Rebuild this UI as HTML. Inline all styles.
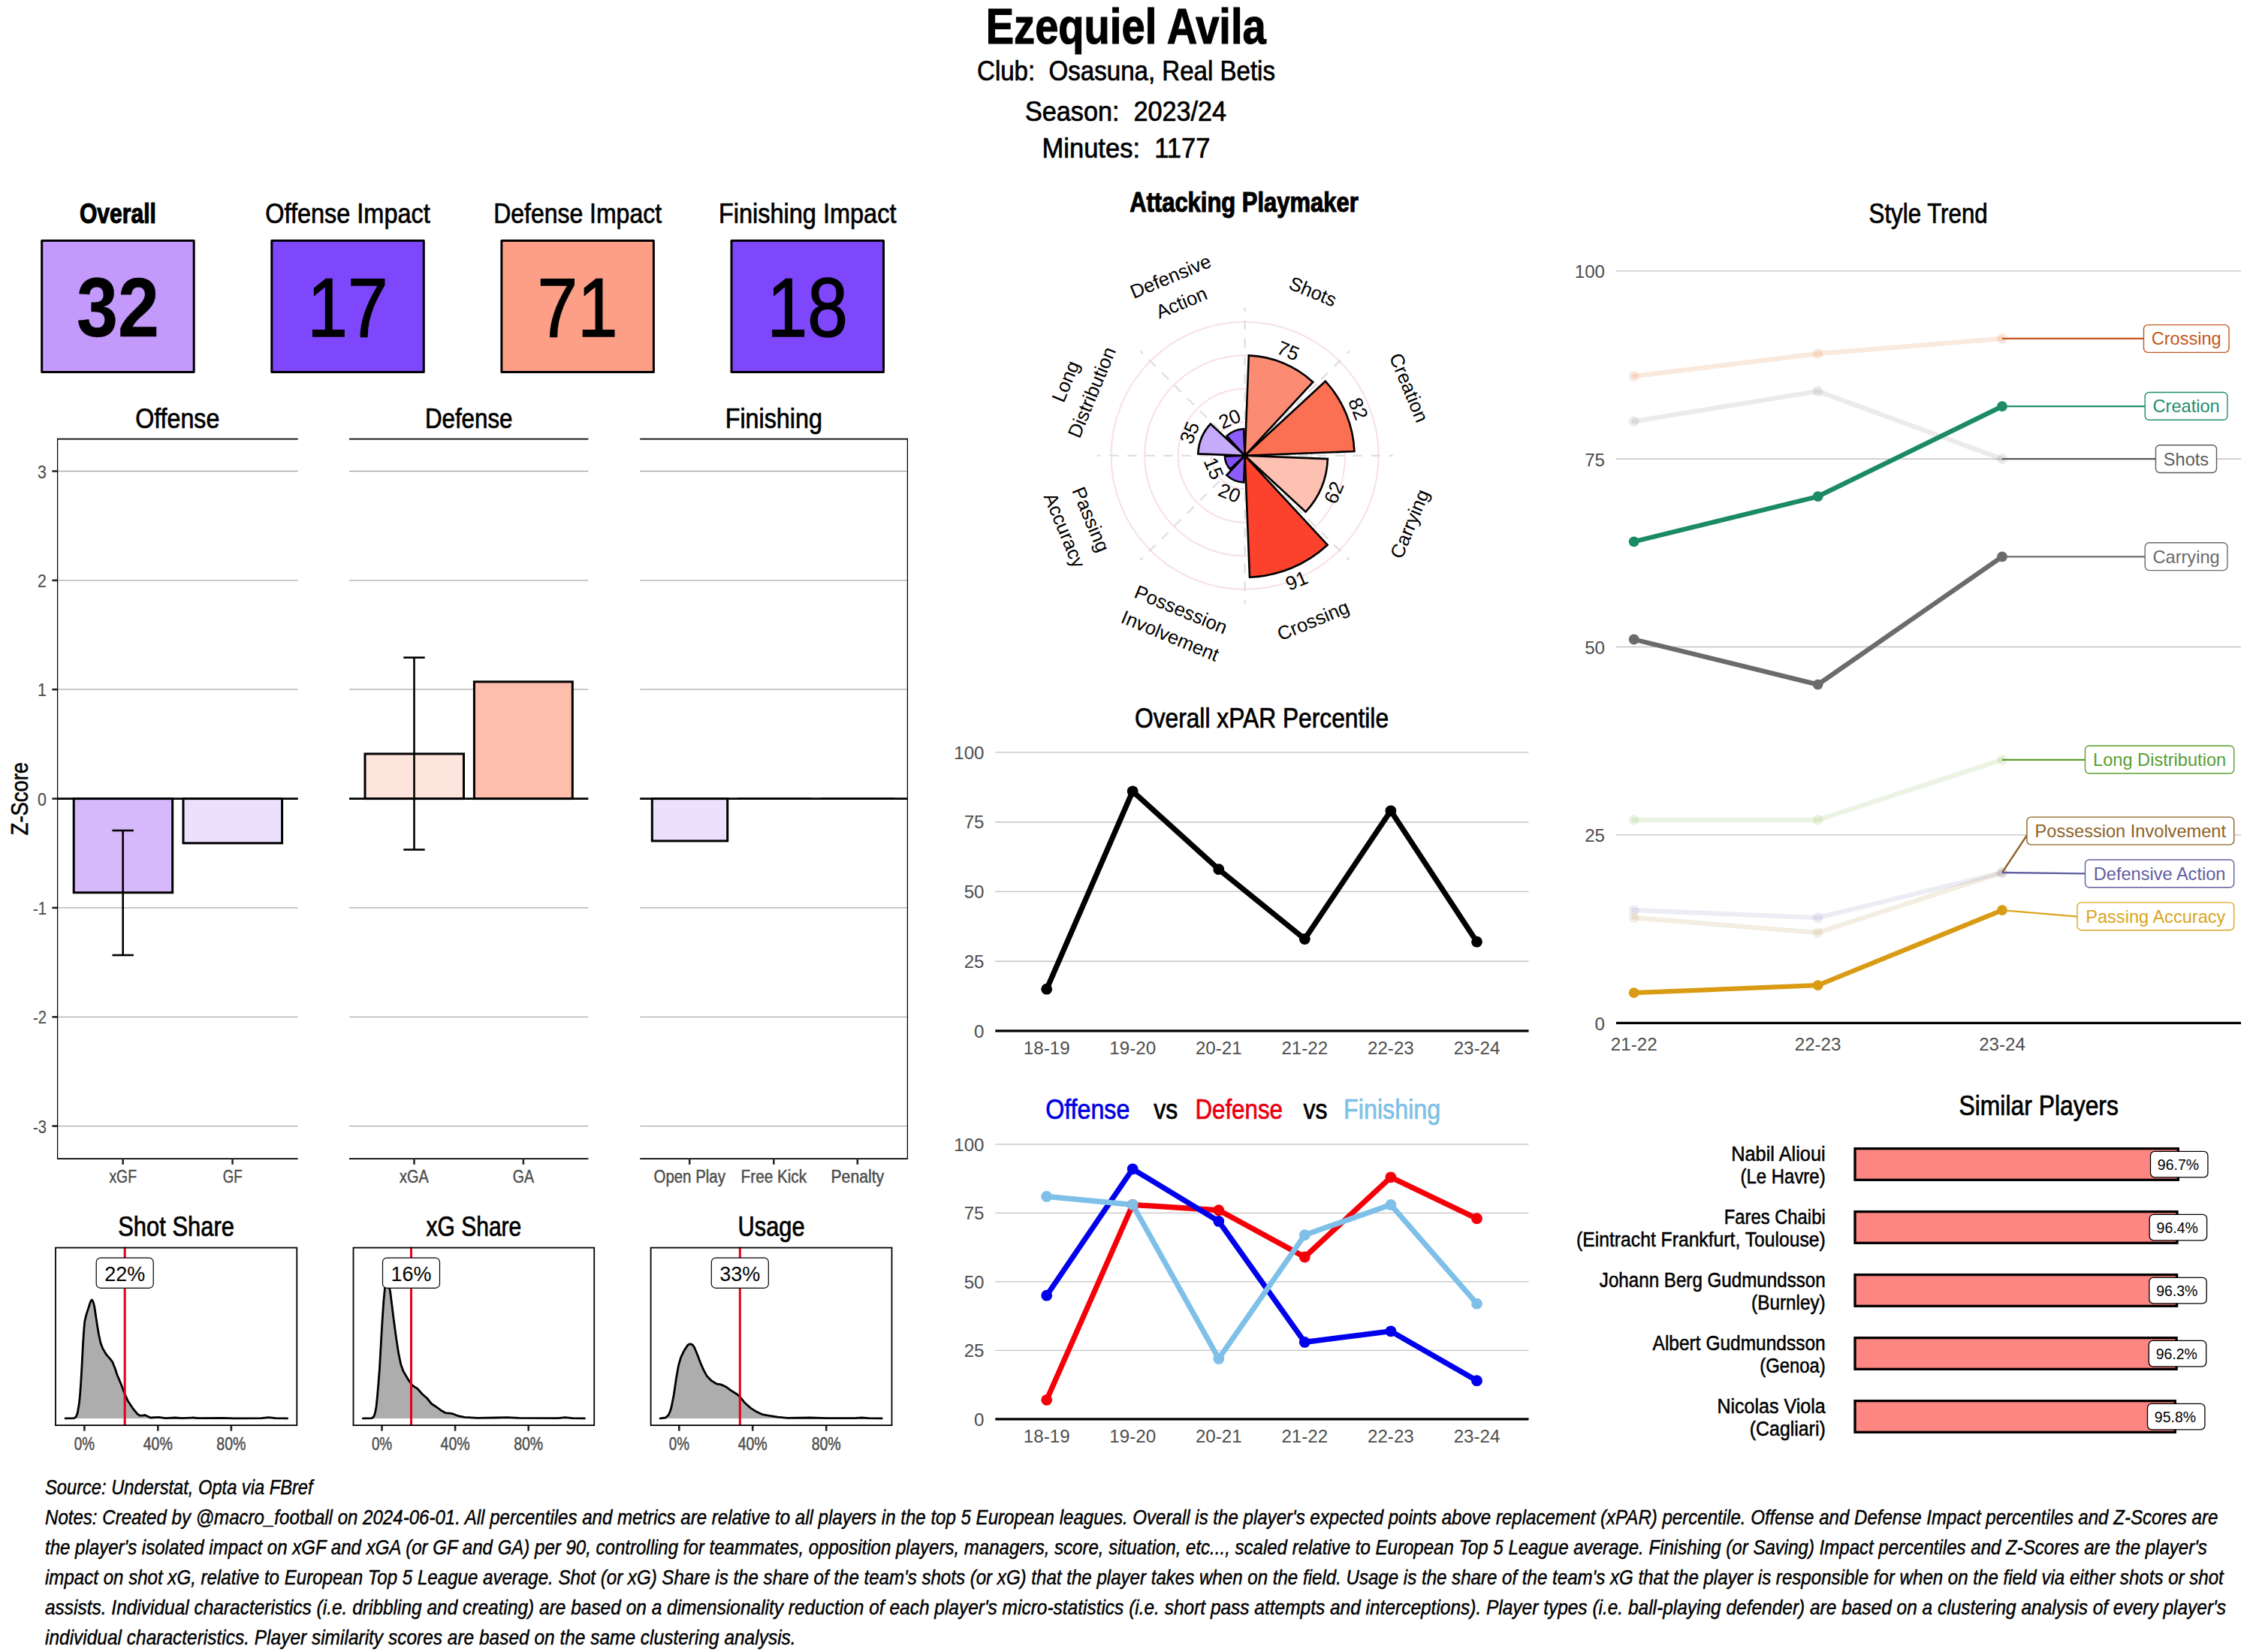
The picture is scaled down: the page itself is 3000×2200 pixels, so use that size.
<!DOCTYPE html>
<html><head><meta charset="utf-8"><title>Ezequiel Avila</title>
<style>
html,body{margin:0;padding:0;background:#fff;}
svg{display:block;font-family:"Liberation Sans",sans-serif;}
</style></head><body>
<svg width="3000" height="2200" viewBox="0 0 3000 2200">
<rect width="3000" height="2200" fill="#fff"/>
<text x="1499.2" y="57.8" font-size="66.67" text-anchor="middle" textLength="373.0" lengthAdjust="spacingAndGlyphs" font-weight="bold" stroke="#000" stroke-width="1.20">Ezequiel Avila</text>
<text x="1499.5" y="106.5" font-size="36.50" text-anchor="middle" textLength="397.0" lengthAdjust="spacingAndGlyphs" stroke="#000" stroke-width="0.73">Club:  Osasuna, Real Betis</text>
<text x="1499.0" y="160.6" font-size="36.50" text-anchor="middle" textLength="268.0" lengthAdjust="spacingAndGlyphs" stroke="#000" stroke-width="0.73">Season:  2023/24</text>
<text x="1499.5" y="210.4" font-size="36.50" text-anchor="middle" textLength="224.0" lengthAdjust="spacingAndGlyphs" stroke="#000" stroke-width="0.73">Minutes:  1177</text>
<rect x="55.7" y="320.4" width="202.5" height="175.2" fill="#c39afc" stroke="#000" stroke-width="3" stroke-linejoin="round"/>
<text x="156.9" y="297.0" font-size="36.20" text-anchor="middle" textLength="102.0" lengthAdjust="spacingAndGlyphs" font-weight="bold" stroke="#000" stroke-width="1.09">Overall</text>
<text x="156.9" y="448.4" font-size="111.60" text-anchor="middle" textLength="110.0" lengthAdjust="spacingAndGlyphs" font-weight="bold" stroke="#000" stroke-width="0.45">32</text>
<rect x="361.8" y="320.4" width="202.5" height="175.2" fill="#7f47fc" stroke="#000" stroke-width="3" stroke-linejoin="round"/>
<text x="463.0" y="297.0" font-size="36.20" text-anchor="middle" textLength="219.5" lengthAdjust="spacingAndGlyphs" stroke="#000" stroke-width="0.72">Offense Impact</text>
<text x="463.0" y="448.4" font-size="111.60" text-anchor="middle" textLength="107.3" lengthAdjust="spacingAndGlyphs" stroke="#000" stroke-width="1.56">17</text>
<rect x="667.9" y="320.4" width="202.5" height="175.2" fill="#fd9f87" stroke="#000" stroke-width="3" stroke-linejoin="round"/>
<text x="769.1" y="297.0" font-size="36.20" text-anchor="middle" textLength="223.9" lengthAdjust="spacingAndGlyphs" stroke="#000" stroke-width="0.72">Defense Impact</text>
<text x="769.1" y="448.4" font-size="111.60" text-anchor="middle" textLength="107.3" lengthAdjust="spacingAndGlyphs" stroke="#000" stroke-width="1.56">71</text>
<rect x="974.0" y="320.4" width="202.5" height="175.2" fill="#7f47fc" stroke="#000" stroke-width="3" stroke-linejoin="round"/>
<text x="1075.2" y="297.0" font-size="36.20" text-anchor="middle" textLength="236.5" lengthAdjust="spacingAndGlyphs" stroke="#000" stroke-width="0.72">Finishing Impact</text>
<text x="1075.2" y="448.4" font-size="111.60" text-anchor="middle" textLength="107.3" lengthAdjust="spacingAndGlyphs" stroke="#000" stroke-width="1.56">18</text>
<line x1="76.0" y1="627.5" x2="396.7" y2="627.5" stroke="#aaaaaa" stroke-width="1.3"/>
<line x1="76.0" y1="772.9" x2="396.7" y2="772.9" stroke="#aaaaaa" stroke-width="1.3"/>
<line x1="76.0" y1="918.2" x2="396.7" y2="918.2" stroke="#aaaaaa" stroke-width="1.3"/>
<line x1="76.0" y1="1208.9" x2="396.7" y2="1208.9" stroke="#aaaaaa" stroke-width="1.3"/>
<line x1="76.0" y1="1354.3" x2="396.7" y2="1354.3" stroke="#aaaaaa" stroke-width="1.3"/>
<line x1="76.0" y1="1499.6" x2="396.7" y2="1499.6" stroke="#aaaaaa" stroke-width="1.3"/>
<line x1="465.0" y1="627.5" x2="783.4" y2="627.5" stroke="#aaaaaa" stroke-width="1.3"/>
<line x1="465.0" y1="772.9" x2="783.4" y2="772.9" stroke="#aaaaaa" stroke-width="1.3"/>
<line x1="465.0" y1="918.2" x2="783.4" y2="918.2" stroke="#aaaaaa" stroke-width="1.3"/>
<line x1="465.0" y1="1208.9" x2="783.4" y2="1208.9" stroke="#aaaaaa" stroke-width="1.3"/>
<line x1="465.0" y1="1354.3" x2="783.4" y2="1354.3" stroke="#aaaaaa" stroke-width="1.3"/>
<line x1="465.0" y1="1499.6" x2="783.4" y2="1499.6" stroke="#aaaaaa" stroke-width="1.3"/>
<line x1="852.2" y1="627.5" x2="1208.4" y2="627.5" stroke="#aaaaaa" stroke-width="1.3"/>
<line x1="852.2" y1="772.9" x2="1208.4" y2="772.9" stroke="#aaaaaa" stroke-width="1.3"/>
<line x1="852.2" y1="918.2" x2="1208.4" y2="918.2" stroke="#aaaaaa" stroke-width="1.3"/>
<line x1="852.2" y1="1208.9" x2="1208.4" y2="1208.9" stroke="#aaaaaa" stroke-width="1.3"/>
<line x1="852.2" y1="1354.3" x2="1208.4" y2="1354.3" stroke="#aaaaaa" stroke-width="1.3"/>
<line x1="852.2" y1="1499.6" x2="1208.4" y2="1499.6" stroke="#aaaaaa" stroke-width="1.3"/>
<rect x="98.2" y="1063.6" width="131.5" height="125.1" fill="#d5b9fb" stroke="#000" stroke-width="3" stroke-linejoin="miter"/>
<rect x="244.0" y="1063.6" width="131.6" height="59.2" fill="#ede0fd" stroke="#000" stroke-width="3" stroke-linejoin="miter"/>
<rect x="486.0" y="1003.9" width="131.5" height="59.7" fill="#fde4dc" stroke="#000" stroke-width="3" stroke-linejoin="miter"/>
<rect x="631.4" y="907.9" width="130.9" height="155.7" fill="#fdbfab" stroke="#000" stroke-width="3" stroke-linejoin="miter"/>
<rect x="868.3" y="1063.6" width="100.4" height="56.3" fill="#ebe0fd" stroke="#000" stroke-width="3" stroke-linejoin="miter"/>
<line x1="982.0" y1="1063.6" x2="1079.7" y2="1063.6" stroke="#000" stroke-width="2.6"/>
<line x1="1093.0" y1="1063.6" x2="1191.2" y2="1063.6" stroke="#000" stroke-width="2.6"/>
<line x1="76.0" y1="1063.6" x2="396.7" y2="1063.6" stroke="#000" stroke-width="2.6"/>
<line x1="465.0" y1="1063.6" x2="783.4" y2="1063.6" stroke="#000" stroke-width="2.6"/>
<line x1="852.2" y1="1063.6" x2="1208.4" y2="1063.6" stroke="#000" stroke-width="2.6"/>
<line x1="163.7" y1="1106.0" x2="163.7" y2="1272.0" stroke="#000" stroke-width="2.6"/>
<line x1="149.5" y1="1106.0" x2="177.9" y2="1106.0" stroke="#000" stroke-width="2.6"/>
<line x1="149.5" y1="1272.0" x2="177.9" y2="1272.0" stroke="#000" stroke-width="2.6"/>
<line x1="551.5" y1="875.7" x2="551.5" y2="1131.5" stroke="#000" stroke-width="2.6"/>
<line x1="537.3" y1="875.7" x2="565.7" y2="875.7" stroke="#000" stroke-width="2.6"/>
<line x1="537.3" y1="1131.5" x2="565.7" y2="1131.5" stroke="#000" stroke-width="2.6"/>
<line x1="76.0" y1="584.7" x2="396.7" y2="584.7" stroke="#000" stroke-width="1.7"/>
<line x1="465.0" y1="584.7" x2="783.4" y2="584.7" stroke="#000" stroke-width="1.7"/>
<line x1="852.2" y1="584.7" x2="1208.4" y2="584.7" stroke="#000" stroke-width="1.7"/>
<line x1="76.0" y1="1543.2" x2="396.7" y2="1543.2" stroke="#000" stroke-width="1.7"/>
<line x1="465.0" y1="1543.2" x2="783.4" y2="1543.2" stroke="#000" stroke-width="1.7"/>
<line x1="852.2" y1="1543.2" x2="1208.4" y2="1543.2" stroke="#000" stroke-width="1.7"/>
<line x1="76.6" y1="583.8" x2="76.6" y2="1543.8" stroke="#000" stroke-width="1.25"/>
<line x1="1208.4" y1="583.8" x2="1208.4" y2="1543.8" stroke="#000" stroke-width="1.25"/>
<line x1="69.4" y1="627.5" x2="76.0" y2="627.5" stroke="#222" stroke-width="2.6"/>
<text x="62.0" y="636.5" font-size="24.15" text-anchor="end" fill="#4d4d4d" textLength="11.9" lengthAdjust="spacingAndGlyphs" stroke="#4d4d4d" stroke-width="0.19">3</text>
<line x1="69.4" y1="772.9" x2="76.0" y2="772.9" stroke="#222" stroke-width="2.6"/>
<text x="62.0" y="781.9" font-size="24.15" text-anchor="end" fill="#4d4d4d" textLength="11.9" lengthAdjust="spacingAndGlyphs" stroke="#4d4d4d" stroke-width="0.19">2</text>
<line x1="69.4" y1="918.2" x2="76.0" y2="918.2" stroke="#222" stroke-width="2.6"/>
<text x="62.0" y="927.2" font-size="24.15" text-anchor="end" fill="#4d4d4d" textLength="11.9" lengthAdjust="spacingAndGlyphs" stroke="#4d4d4d" stroke-width="0.19">1</text>
<line x1="69.4" y1="1063.6" x2="76.0" y2="1063.6" stroke="#222" stroke-width="2.6"/>
<text x="62.0" y="1072.6" font-size="24.15" text-anchor="end" fill="#4d4d4d" textLength="11.9" lengthAdjust="spacingAndGlyphs" stroke="#4d4d4d" stroke-width="0.19">0</text>
<line x1="69.4" y1="1208.9" x2="76.0" y2="1208.9" stroke="#222" stroke-width="2.6"/>
<text x="62.0" y="1217.9" font-size="24.15" text-anchor="end" fill="#4d4d4d" textLength="17.9" lengthAdjust="spacingAndGlyphs" stroke="#4d4d4d" stroke-width="0.19">-1</text>
<line x1="69.4" y1="1354.3" x2="76.0" y2="1354.3" stroke="#222" stroke-width="2.6"/>
<text x="62.0" y="1363.3" font-size="24.15" text-anchor="end" fill="#4d4d4d" textLength="17.9" lengthAdjust="spacingAndGlyphs" stroke="#4d4d4d" stroke-width="0.19">-2</text>
<line x1="69.4" y1="1499.6" x2="76.0" y2="1499.6" stroke="#222" stroke-width="2.6"/>
<text x="62.0" y="1508.6" font-size="24.15" text-anchor="end" fill="#4d4d4d" textLength="17.9" lengthAdjust="spacingAndGlyphs" stroke="#4d4d4d" stroke-width="0.19">-3</text>
<line x1="163.7" y1="1543.2" x2="163.7" y2="1550.8" stroke="#2a2a2a" stroke-width="2.6"/>
<text x="163.7" y="1575.4" font-size="24.15" text-anchor="middle" fill="#4d4d4d" textLength="36.5" lengthAdjust="spacingAndGlyphs" stroke="#4d4d4d" stroke-width="0.48">xGF</text>
<line x1="309.6" y1="1543.2" x2="309.6" y2="1550.8" stroke="#2a2a2a" stroke-width="2.6"/>
<text x="309.6" y="1575.4" font-size="24.15" text-anchor="middle" fill="#4d4d4d" textLength="25.9" lengthAdjust="spacingAndGlyphs" stroke="#4d4d4d" stroke-width="0.48">GF</text>
<line x1="551.5" y1="1543.2" x2="551.5" y2="1550.8" stroke="#2a2a2a" stroke-width="2.6"/>
<text x="551.5" y="1575.4" font-size="24.15" text-anchor="middle" fill="#4d4d4d" textLength="38.8" lengthAdjust="spacingAndGlyphs" stroke="#4d4d4d" stroke-width="0.48">xGA</text>
<line x1="696.9" y1="1543.2" x2="696.9" y2="1550.8" stroke="#2a2a2a" stroke-width="2.6"/>
<text x="696.9" y="1575.4" font-size="24.15" text-anchor="middle" fill="#4d4d4d" textLength="28.2" lengthAdjust="spacingAndGlyphs" stroke="#4d4d4d" stroke-width="0.48">GA</text>
<line x1="918.2" y1="1543.2" x2="918.2" y2="1550.8" stroke="#2a2a2a" stroke-width="2.6"/>
<text x="918.2" y="1575.4" font-size="24.15" text-anchor="middle" fill="#4d4d4d" textLength="95.4" lengthAdjust="spacingAndGlyphs" stroke="#4d4d4d" stroke-width="0.48">Open Play</text>
<line x1="1030.3" y1="1543.2" x2="1030.3" y2="1550.8" stroke="#2a2a2a" stroke-width="2.6"/>
<text x="1030.3" y="1575.4" font-size="24.15" text-anchor="middle" fill="#4d4d4d" textLength="87.4" lengthAdjust="spacingAndGlyphs" stroke="#4d4d4d" stroke-width="0.48">Free Kick</text>
<line x1="1141.8" y1="1543.2" x2="1141.8" y2="1550.8" stroke="#2a2a2a" stroke-width="2.6"/>
<text x="1141.8" y="1575.4" font-size="24.15" text-anchor="middle" fill="#4d4d4d" textLength="70.6" lengthAdjust="spacingAndGlyphs" stroke="#4d4d4d" stroke-width="0.48">Penalty</text>
<text x="236.3" y="570.0" font-size="36.20" text-anchor="middle" textLength="112.2" lengthAdjust="spacingAndGlyphs" stroke="#000" stroke-width="0.72">Offense</text>
<text x="624.2" y="570.0" font-size="36.20" text-anchor="middle" textLength="116.6" lengthAdjust="spacingAndGlyphs" stroke="#000" stroke-width="0.72">Defense</text>
<text x="1030.3" y="570.0" font-size="36.20" text-anchor="middle" textLength="129.3" lengthAdjust="spacingAndGlyphs" stroke="#000" stroke-width="0.72">Finishing</text>
<text x="37.0" y="1063.6" font-size="32.20" text-anchor="middle" transform="rotate(-90.00 37.0 1063.6)" textLength="97.2" lengthAdjust="spacingAndGlyphs" stroke="#000" stroke-width="0.64">Z-Score</text>
<path d="M87.1,1888.9 L98.6,1888.7 L101.2,1886.9 L103.3,1881.4 L105.2,1870.3 L106.4,1859.3 L107.7,1842.0 L108.8,1823.1 L110.4,1791.6 L111.5,1774.3 L112.7,1760.2 L114.3,1753.1 L115.9,1747.6 L119.0,1738.1 L120.6,1733.1 L122.2,1731.1 L123.4,1732.2 L124.5,1735.0 L125.8,1740.5 L126.9,1747.6 L129.2,1763.3 L131.6,1777.5 L134.0,1788.5 L137.1,1796.4 L141.8,1804.2 L146.6,1809.7 L149.7,1813.7 L152.9,1821.5 L156.0,1831.0 L160.7,1842.0 L165.4,1854.6 L170.2,1865.6 L176.5,1875.1 L182.8,1882.9 L185.9,1885.0 L189.8,1885.1 L193.0,1884.5 L195.3,1885.6 L200.1,1888.0 L211.1,1887.3 L220.5,1888.7 L233.1,1888.0 L242.6,1888.7 L256.7,1888.0 L264.6,1888.6 L296.1,1888.3 L311.8,1888.9 L348.0,1888.6 L357.5,1887.6 L366.9,1888.7 L382.6,1888.9 L382.6,1888.9 L87.1,1888.9 Z" fill="#adadad" stroke="none"/>
<path d="M87.1,1888.9 L98.6,1888.7 L101.2,1886.9 L103.3,1881.4 L105.2,1870.3 L106.4,1859.3 L107.7,1842.0 L108.8,1823.1 L110.4,1791.6 L111.5,1774.3 L112.7,1760.2 L114.3,1753.1 L115.9,1747.6 L119.0,1738.1 L120.6,1733.1 L122.2,1731.1 L123.4,1732.2 L124.5,1735.0 L125.8,1740.5 L126.9,1747.6 L129.2,1763.3 L131.6,1777.5 L134.0,1788.5 L137.1,1796.4 L141.8,1804.2 L146.6,1809.7 L149.7,1813.7 L152.9,1821.5 L156.0,1831.0 L160.7,1842.0 L165.4,1854.6 L170.2,1865.6 L176.5,1875.1 L182.8,1882.9 L185.9,1885.0 L189.8,1885.1 L193.0,1884.5 L195.3,1885.6 L200.1,1888.0 L211.1,1887.3 L220.5,1888.7 L233.1,1888.0 L242.6,1888.7 L256.7,1888.0 L264.6,1888.6 L296.1,1888.3 L311.8,1888.9 L348.0,1888.6 L357.5,1887.6 L366.9,1888.7 L382.6,1888.9" fill="none" stroke="#000" stroke-width="2.8" stroke-linejoin="round" stroke-linecap="round"/>
<line x1="166.2" y1="1660.7" x2="166.2" y2="1899.0" stroke="#e3001b" stroke-width="3"/>
<rect x="74.0" y="1661.6" width="321.3" height="236.5" fill="none" stroke="#000" stroke-width="1.8"/>
<rect x="128.2" y="1675.2" width="76.0" height="40.1" fill="#fff" stroke="#000" stroke-width="1.2" rx="5.5"/>
<text x="166.2" y="1706.3" font-size="27.00" text-anchor="middle">22%</text>
<text x="234.6" y="1645.5" font-size="36.20" text-anchor="middle" textLength="154.7" lengthAdjust="spacingAndGlyphs" stroke="#000" stroke-width="0.72">Shot Share</text>
<line x1="112.4" y1="1899.0" x2="112.4" y2="1905.6" stroke="#222" stroke-width="2.6"/>
<text x="112.4" y="1931.0" font-size="24.15" text-anchor="middle" fill="#4d4d4d" textLength="27.2" lengthAdjust="spacingAndGlyphs" stroke="#4d4d4d" stroke-width="0.48">0%</text>
<line x1="210.3" y1="1899.0" x2="210.3" y2="1905.6" stroke="#222" stroke-width="2.6"/>
<text x="210.3" y="1931.0" font-size="24.15" text-anchor="middle" fill="#4d4d4d" textLength="39.1" lengthAdjust="spacingAndGlyphs" stroke="#4d4d4d" stroke-width="0.48">40%</text>
<line x1="307.9" y1="1899.0" x2="307.9" y2="1905.6" stroke="#222" stroke-width="2.6"/>
<text x="307.9" y="1931.0" font-size="24.15" text-anchor="middle" fill="#4d4d4d" textLength="39.1" lengthAdjust="spacingAndGlyphs" stroke="#4d4d4d" stroke-width="0.48">80%</text>
<path d="M483.3,1888.9 L495.1,1888.7 L497.5,1886.9 L499.4,1882.1 L501.0,1873.5 L502.2,1862.5 L503.8,1843.6 L505.4,1823.1 L506.9,1796.4 L508.5,1768.0 L509.8,1747.6 L510.9,1731.8 L512.4,1716.1 L514.0,1709.0 L515.6,1707.0 L517.2,1709.8 L518.4,1714.5 L519.5,1719.2 L521.9,1738.1 L524.2,1757.0 L527.4,1780.6 L530.5,1801.1 L533.7,1816.8 L536.8,1825.5 L540.8,1832.6 L544.7,1838.9 L549.4,1845.2 L555.7,1849.1 L562.0,1856.2 L568.3,1861.7 L574.6,1869.5 L580.9,1873.5 L587.2,1878.2 L593.5,1881.7 L601.4,1882.3 L609.2,1885.3 L618.7,1887.3 L636.0,1888.4 L659.6,1888.0 L675.3,1887.6 L691.1,1888.4 L743.0,1888.6 L752.5,1887.6 L761.9,1888.7 L778.4,1888.9 L778.4,1888.9 L483.3,1888.9 Z" fill="#adadad" stroke="none"/>
<path d="M483.3,1888.9 L495.1,1888.7 L497.5,1886.9 L499.4,1882.1 L501.0,1873.5 L502.2,1862.5 L503.8,1843.6 L505.4,1823.1 L506.9,1796.4 L508.5,1768.0 L509.8,1747.6 L510.9,1731.8 L512.4,1716.1 L514.0,1709.0 L515.6,1707.0 L517.2,1709.8 L518.4,1714.5 L519.5,1719.2 L521.9,1738.1 L524.2,1757.0 L527.4,1780.6 L530.5,1801.1 L533.7,1816.8 L536.8,1825.5 L540.8,1832.6 L544.7,1838.9 L549.4,1845.2 L555.7,1849.1 L562.0,1856.2 L568.3,1861.7 L574.6,1869.5 L580.9,1873.5 L587.2,1878.2 L593.5,1881.7 L601.4,1882.3 L609.2,1885.3 L618.7,1887.3 L636.0,1888.4 L659.6,1888.0 L675.3,1887.6 L691.1,1888.4 L743.0,1888.6 L752.5,1887.6 L761.9,1888.7 L778.4,1888.9" fill="none" stroke="#000" stroke-width="2.8" stroke-linejoin="round" stroke-linecap="round"/>
<line x1="547.5" y1="1660.7" x2="547.5" y2="1899.0" stroke="#e3001b" stroke-width="3"/>
<rect x="470.5" y="1661.6" width="320.7" height="236.5" fill="none" stroke="#000" stroke-width="1.8"/>
<rect x="509.5" y="1675.2" width="76.0" height="40.1" fill="#fff" stroke="#000" stroke-width="1.2" rx="5.5"/>
<text x="547.5" y="1706.3" font-size="27.00" text-anchor="middle">16%</text>
<text x="630.9" y="1645.5" font-size="36.20" text-anchor="middle" textLength="126.8" lengthAdjust="spacingAndGlyphs" stroke="#000" stroke-width="0.72">xG Share</text>
<line x1="508.5" y1="1899.0" x2="508.5" y2="1905.6" stroke="#222" stroke-width="2.6"/>
<text x="508.5" y="1931.0" font-size="24.15" text-anchor="middle" fill="#4d4d4d" textLength="27.2" lengthAdjust="spacingAndGlyphs" stroke="#4d4d4d" stroke-width="0.48">0%</text>
<line x1="606.1" y1="1899.0" x2="606.1" y2="1905.6" stroke="#222" stroke-width="2.6"/>
<text x="606.1" y="1931.0" font-size="24.15" text-anchor="middle" fill="#4d4d4d" textLength="39.1" lengthAdjust="spacingAndGlyphs" stroke="#4d4d4d" stroke-width="0.48">40%</text>
<line x1="703.7" y1="1899.0" x2="703.7" y2="1905.6" stroke="#222" stroke-width="2.6"/>
<text x="703.7" y="1931.0" font-size="24.15" text-anchor="middle" fill="#4d4d4d" textLength="39.1" lengthAdjust="spacingAndGlyphs" stroke="#4d4d4d" stroke-width="0.48">80%</text>
<path d="M879.1,1888.9 L886.2,1888.0 L890.1,1884.5 L892.5,1879.0 L894.1,1873.5 L897.2,1857.7 L900.4,1835.7 L903.5,1818.4 L906.7,1807.4 L911.4,1797.9 L916.1,1790.9 L918.5,1789.8 L920.8,1790.1 L922.7,1791.6 L924.8,1794.8 L928.7,1804.2 L932.6,1814.5 L936.6,1823.9 L941.3,1832.6 L947.6,1838.9 L953.9,1842.8 L960.2,1843.9 L966.5,1846.7 L972.8,1851.4 L980.6,1856.2 L985.3,1860.1 L991.6,1868.0 L999.5,1875.1 L1007.4,1880.1 L1015.3,1883.7 L1026.3,1885.6 L1035.7,1887.2 L1048.3,1888.4 L1078.2,1888.0 L1101.8,1888.6 L1138.0,1888.6 L1147.5,1888.0 L1156.9,1888.7 L1174.2,1888.9 L1174.2,1888.9 L879.1,1888.9 Z" fill="#adadad" stroke="none"/>
<path d="M879.1,1888.9 L886.2,1888.0 L890.1,1884.5 L892.5,1879.0 L894.1,1873.5 L897.2,1857.7 L900.4,1835.7 L903.5,1818.4 L906.7,1807.4 L911.4,1797.9 L916.1,1790.9 L918.5,1789.8 L920.8,1790.1 L922.7,1791.6 L924.8,1794.8 L928.7,1804.2 L932.6,1814.5 L936.6,1823.9 L941.3,1832.6 L947.6,1838.9 L953.9,1842.8 L960.2,1843.9 L966.5,1846.7 L972.8,1851.4 L980.6,1856.2 L985.3,1860.1 L991.6,1868.0 L999.5,1875.1 L1007.4,1880.1 L1015.3,1883.7 L1026.3,1885.6 L1035.7,1887.2 L1048.3,1888.4 L1078.2,1888.0 L1101.8,1888.6 L1138.0,1888.6 L1147.5,1888.0 L1156.9,1888.7 L1174.2,1888.9" fill="none" stroke="#000" stroke-width="2.8" stroke-linejoin="round" stroke-linecap="round"/>
<line x1="985.3" y1="1660.7" x2="985.3" y2="1899.0" stroke="#e3001b" stroke-width="3"/>
<rect x="866.6" y="1661.6" width="320.9" height="236.5" fill="none" stroke="#000" stroke-width="1.8"/>
<rect x="947.3" y="1675.2" width="76.0" height="40.1" fill="#fff" stroke="#000" stroke-width="1.2" rx="5.5"/>
<text x="985.3" y="1706.3" font-size="27.00" text-anchor="middle">33%</text>
<text x="1027.1" y="1645.5" font-size="36.20" text-anchor="middle" textLength="89.0" lengthAdjust="spacingAndGlyphs" stroke="#000" stroke-width="0.72">Usage</text>
<line x1="904.3" y1="1899.0" x2="904.3" y2="1905.6" stroke="#222" stroke-width="2.6"/>
<text x="904.3" y="1931.0" font-size="24.15" text-anchor="middle" fill="#4d4d4d" textLength="27.2" lengthAdjust="spacingAndGlyphs" stroke="#4d4d4d" stroke-width="0.48">0%</text>
<line x1="1002.2" y1="1899.0" x2="1002.2" y2="1905.6" stroke="#222" stroke-width="2.6"/>
<text x="1002.2" y="1931.0" font-size="24.15" text-anchor="middle" fill="#4d4d4d" textLength="39.1" lengthAdjust="spacingAndGlyphs" stroke="#4d4d4d" stroke-width="0.48">40%</text>
<line x1="1100.2" y1="1899.0" x2="1100.2" y2="1905.6" stroke="#222" stroke-width="2.6"/>
<text x="1100.2" y="1931.0" font-size="24.15" text-anchor="middle" fill="#4d4d4d" textLength="39.1" lengthAdjust="spacingAndGlyphs" stroke="#4d4d4d" stroke-width="0.48">80%</text>
<text x="1656.5" y="282.3" font-size="36.20" text-anchor="middle" textLength="304.6" lengthAdjust="spacingAndGlyphs" font-weight="bold" stroke="#000" stroke-width="1.09">Attacking Playmaker</text>
<circle cx="1657.6" cy="606.8" r="44.5" fill="none" stroke="#f8e1e4" stroke-width="2.1"/>
<circle cx="1657.6" cy="606.8" r="89.0" fill="none" stroke="#f8e1e4" stroke-width="2.1"/>
<circle cx="1657.6" cy="606.8" r="133.5" fill="none" stroke="#f8e1e4" stroke-width="2.1"/>
<circle cx="1657.6" cy="606.8" r="178.0" fill="none" stroke="#f8e1e4" stroke-width="2.1"/>
<line x1="1657.6" y1="606.8" x2="1657.6" y2="409.8" stroke="#dcdcdc" stroke-width="2.1" stroke-dasharray="12.4 11.6"/>
<line x1="1657.6" y1="606.8" x2="1796.9" y2="467.5" stroke="#dcdcdc" stroke-width="2.1" stroke-dasharray="12.4 11.6"/>
<line x1="1657.6" y1="606.8" x2="1854.6" y2="606.8" stroke="#dcdcdc" stroke-width="2.1" stroke-dasharray="12.4 11.6"/>
<line x1="1657.6" y1="606.8" x2="1796.9" y2="746.1" stroke="#dcdcdc" stroke-width="2.1" stroke-dasharray="12.4 11.6"/>
<line x1="1657.6" y1="606.8" x2="1657.6" y2="803.8" stroke="#dcdcdc" stroke-width="2.1" stroke-dasharray="12.4 11.6"/>
<line x1="1657.6" y1="606.8" x2="1518.3" y2="746.1" stroke="#dcdcdc" stroke-width="2.1" stroke-dasharray="12.4 11.6"/>
<line x1="1657.6" y1="606.8" x2="1460.6" y2="606.8" stroke="#dcdcdc" stroke-width="2.1" stroke-dasharray="12.4 11.6"/>
<line x1="1657.6" y1="606.8" x2="1518.3" y2="467.5" stroke="#dcdcdc" stroke-width="2.1" stroke-dasharray="12.4 11.6"/>
<path d="M1657.6,606.8 L1662.8,473.4 A133.5,133.5 0 0 1 1748.2,508.8 Z" fill="#fb876d" fill-opacity="0.96" stroke="#000" stroke-width="2.6" stroke-linejoin="miter"/>
<path d="M1657.6,606.8 L1764.8,507.7 A146.0,146.0 0 0 1 1803.4,601.1 Z" fill="#fb6a4c" fill-opacity="0.96" stroke="#000" stroke-width="2.6" stroke-linejoin="miter"/>
<path d="M1657.6,606.8 L1767.9,611.1 A110.4,110.4 0 0 1 1738.6,681.7 Z" fill="#fdbeae" fill-opacity="0.96" stroke="#000" stroke-width="2.6" stroke-linejoin="miter"/>
<path d="M1657.6,606.8 L1767.6,725.7 A162.0,162.0 0 0 1 1664.0,768.7 Z" fill="#fc3a24" fill-opacity="0.96" stroke="#000" stroke-width="2.6" stroke-linejoin="miter"/>
<path d="M1657.6,606.8 L1656.2,642.4 A35.6,35.6 0 0 1 1633.4,632.9 Z" fill="#8656fa" fill-opacity="0.96" stroke="#000" stroke-width="2.6" stroke-linejoin="miter"/>
<path d="M1657.6,606.8 L1638.0,624.9 A26.7,26.7 0 0 1 1630.9,607.8 Z" fill="#7c49fa" fill-opacity="0.96" stroke="#000" stroke-width="2.6" stroke-linejoin="miter"/>
<path d="M1657.6,606.8 L1595.3,604.4 A62.3,62.3 0 0 1 1611.9,564.5 Z" fill="#c4a8fb" fill-opacity="0.96" stroke="#000" stroke-width="2.6" stroke-linejoin="miter"/>
<path d="M1657.6,606.8 L1633.4,580.7 A35.6,35.6 0 0 1 1656.2,571.2 Z" fill="#8656fa" fill-opacity="0.96" stroke="#000" stroke-width="2.6" stroke-linejoin="miter"/>
<text transform="translate(1715.5 467.0) rotate(22.5)" font-size="26" text-anchor="middle" y="9.3">75</text>
<text transform="translate(1748.3 387.8) rotate(22.5)" font-size="25.6" text-anchor="middle" y="9.3">Shots</text>
<text transform="translate(1808.9 544.1) rotate(67.5)" font-size="26" text-anchor="middle" y="9.3">82</text>
<text transform="translate(1876.6 516.1) rotate(67.5)" font-size="25.6" text-anchor="middle" y="9.3">Creation</text>
<text transform="translate(1776.0 655.8) rotate(-67.5)" font-size="26" text-anchor="middle" y="9.3">62</text>
<text transform="translate(1876.6 697.5) rotate(-67.5)" font-size="25.6" text-anchor="middle" y="9.3">Carrying</text>
<text transform="translate(1726.4 772.9) rotate(-22.5)" font-size="26" text-anchor="middle" y="9.3">91</text>
<text transform="translate(1748.3 825.8) rotate(-22.5)" font-size="25.6" text-anchor="middle" y="9.3">Crossing</text>
<text transform="translate(1637.2 656.1) rotate(22.5)" font-size="26" text-anchor="middle" y="9.3">20</text>
<text transform="translate(1566.9 825.8) rotate(22.5)" font-size="25.6" text-anchor="middle"><tspan x="0" y="-6.3">Possession</tspan><tspan x="0" y="31.5">Involvement</tspan></text>
<text transform="translate(1616.5 623.8) rotate(67.5)" font-size="26" text-anchor="middle" y="9.3">15</text>
<text transform="translate(1438.6 697.5) rotate(67.5)" font-size="25.6" text-anchor="middle"><tspan x="0" y="-6.3">Passing</tspan><tspan x="0" y="31.5">Accuracy</tspan></text>
<text transform="translate(1583.6 576.1) rotate(292.5)" font-size="26" text-anchor="middle" y="9.3">35</text>
<text transform="translate(1438.6 516.1) rotate(292.5)" font-size="25.6" text-anchor="middle"><tspan x="0" y="-12.5">Long</tspan><tspan x="0" y="25.3">Distribution</tspan></text>
<text transform="translate(1637.2 557.5) rotate(337.5)" font-size="26" text-anchor="middle" y="9.3">20</text>
<text transform="translate(1566.9 387.8) rotate(337.5)" font-size="25.6" text-anchor="middle"><tspan x="0" y="-12.5">Defensive</tspan><tspan x="0" y="25.3">Action</tspan></text>
<line x1="1325.3" y1="1280.2" x2="2035.5" y2="1280.2" stroke="#c2c2c2" stroke-width="1.35"/>
<line x1="1325.3" y1="1187.4" x2="2035.5" y2="1187.4" stroke="#c2c2c2" stroke-width="1.35"/>
<line x1="1325.3" y1="1094.7" x2="2035.5" y2="1094.7" stroke="#c2c2c2" stroke-width="1.35"/>
<line x1="1325.3" y1="1001.9" x2="2035.5" y2="1001.9" stroke="#c2c2c2" stroke-width="1.35"/>
<text x="1310.5" y="1381.5" font-size="24.15" text-anchor="end" fill="#4d4d4d">0</text>
<text x="1310.5" y="1288.8" font-size="24.15" text-anchor="end" fill="#4d4d4d">25</text>
<text x="1310.5" y="1196.0" font-size="24.15" text-anchor="end" fill="#4d4d4d">50</text>
<text x="1310.5" y="1103.2" font-size="24.15" text-anchor="end" fill="#4d4d4d">75</text>
<text x="1310.5" y="1010.5" font-size="24.15" text-anchor="end" fill="#4d4d4d">100</text>
<line x1="1325.3" y1="1372.9" x2="2035.5" y2="1372.9" stroke="#000" stroke-width="3.2"/>
<polyline points="1393.7,1317.2 1508.2,1053.8 1622.8,1157.7 1737.3,1250.5 1851.9,1079.8 1966.5,1254.2" fill="none" stroke="#000" stroke-width="7.2" stroke-linejoin="round" stroke-linecap="round"/>
<circle cx="1393.7" cy="1317.2" r="7.4" fill="#000"/>
<circle cx="1508.2" cy="1053.8" r="7.4" fill="#000"/>
<circle cx="1622.8" cy="1157.7" r="7.4" fill="#000"/>
<circle cx="1737.3" cy="1250.5" r="7.4" fill="#000"/>
<circle cx="1851.9" cy="1079.8" r="7.4" fill="#000"/>
<circle cx="1966.5" cy="1254.2" r="7.4" fill="#000"/>
<text x="1393.7" y="1403.8" font-size="24.15" text-anchor="middle" fill="#4d4d4d">18-19</text>
<text x="1508.2" y="1403.8" font-size="24.15" text-anchor="middle" fill="#4d4d4d">19-20</text>
<text x="1622.8" y="1403.8" font-size="24.15" text-anchor="middle" fill="#4d4d4d">20-21</text>
<text x="1737.3" y="1403.8" font-size="24.15" text-anchor="middle" fill="#4d4d4d">21-22</text>
<text x="1851.9" y="1403.8" font-size="24.15" text-anchor="middle" fill="#4d4d4d">22-23</text>
<text x="1966.5" y="1403.8" font-size="24.15" text-anchor="middle" fill="#4d4d4d">23-24</text>
<text x="1680.0" y="969.0" font-size="36.20" text-anchor="middle" textLength="338.1" lengthAdjust="spacingAndGlyphs" stroke="#000" stroke-width="0.72">Overall xPAR Percentile</text>
<line x1="1325.3" y1="1798.4" x2="2035.5" y2="1798.4" stroke="#c2c2c2" stroke-width="1.35"/>
<line x1="1325.3" y1="1706.9" x2="2035.5" y2="1706.9" stroke="#c2c2c2" stroke-width="1.35"/>
<line x1="1325.3" y1="1615.4" x2="2035.5" y2="1615.4" stroke="#c2c2c2" stroke-width="1.35"/>
<line x1="1325.3" y1="1523.9" x2="2035.5" y2="1523.9" stroke="#c2c2c2" stroke-width="1.35"/>
<text x="1310.5" y="1898.5" font-size="24.15" text-anchor="end" fill="#4d4d4d">0</text>
<text x="1310.5" y="1807.0" font-size="24.15" text-anchor="end" fill="#4d4d4d">25</text>
<text x="1310.5" y="1715.5" font-size="24.15" text-anchor="end" fill="#4d4d4d">50</text>
<text x="1310.5" y="1624.0" font-size="24.15" text-anchor="end" fill="#4d4d4d">75</text>
<text x="1310.5" y="1532.5" font-size="24.15" text-anchor="end" fill="#4d4d4d">100</text>
<line x1="1325.3" y1="1889.9" x2="2035.5" y2="1889.9" stroke="#000" stroke-width="3.2"/>
<polyline points="1393.7,1864.3 1508.2,1604.4 1622.8,1611.7 1737.3,1674.0 1851.9,1567.8 1966.5,1622.7" fill="none" stroke="#f50008" stroke-width="7.2" stroke-linejoin="round" stroke-linecap="round"/>
<polyline points="1393.7,1725.2 1508.2,1556.8 1622.8,1626.4 1737.3,1787.4 1851.9,1772.8 1966.5,1838.7" fill="none" stroke="#0000ec" stroke-width="7.2" stroke-linejoin="round" stroke-linecap="round"/>
<polyline points="1393.7,1593.4 1508.2,1604.4 1622.8,1809.4 1737.3,1644.7 1851.9,1604.4 1966.5,1736.2" fill="none" stroke="#7ec0e8" stroke-width="7.2" stroke-linejoin="round" stroke-linecap="round"/>
<circle cx="1393.7" cy="1864.3" r="7.4" fill="#f50008"/>
<circle cx="1508.2" cy="1604.4" r="7.4" fill="#f50008"/>
<circle cx="1622.8" cy="1611.7" r="7.4" fill="#f50008"/>
<circle cx="1737.3" cy="1674.0" r="7.4" fill="#f50008"/>
<circle cx="1851.9" cy="1567.8" r="7.4" fill="#f50008"/>
<circle cx="1966.5" cy="1622.7" r="7.4" fill="#f50008"/>
<circle cx="1393.7" cy="1725.2" r="7.4" fill="#0000ec"/>
<circle cx="1508.2" cy="1556.8" r="7.4" fill="#0000ec"/>
<circle cx="1622.8" cy="1626.4" r="7.4" fill="#0000ec"/>
<circle cx="1737.3" cy="1787.4" r="7.4" fill="#0000ec"/>
<circle cx="1851.9" cy="1772.8" r="7.4" fill="#0000ec"/>
<circle cx="1966.5" cy="1838.7" r="7.4" fill="#0000ec"/>
<circle cx="1393.7" cy="1593.4" r="7.4" fill="#7ec0e8"/>
<circle cx="1508.2" cy="1604.4" r="7.4" fill="#7ec0e8"/>
<circle cx="1622.8" cy="1809.4" r="7.4" fill="#7ec0e8"/>
<circle cx="1737.3" cy="1644.7" r="7.4" fill="#7ec0e8"/>
<circle cx="1851.9" cy="1604.4" r="7.4" fill="#7ec0e8"/>
<circle cx="1966.5" cy="1736.2" r="7.4" fill="#7ec0e8"/>
<text x="1393.7" y="1920.9" font-size="24.15" text-anchor="middle" fill="#4d4d4d">18-19</text>
<text x="1508.2" y="1920.9" font-size="24.15" text-anchor="middle" fill="#4d4d4d">19-20</text>
<text x="1622.8" y="1920.9" font-size="24.15" text-anchor="middle" fill="#4d4d4d">20-21</text>
<text x="1737.3" y="1920.9" font-size="24.15" text-anchor="middle" fill="#4d4d4d">21-22</text>
<text x="1851.9" y="1920.9" font-size="24.15" text-anchor="middle" fill="#4d4d4d">22-23</text>
<text x="1966.5" y="1920.9" font-size="24.15" text-anchor="middle" fill="#4d4d4d">23-24</text>
<text x="1392.2" y="1490.4" font-size="36.20" fill="#0000e2" textLength="112.2" lengthAdjust="spacingAndGlyphs" stroke="#0000e2" stroke-width="0.72">Offense</text>
<text x="1536.3" y="1490.4" font-size="36.20" textLength="32.0" lengthAdjust="spacingAndGlyphs" stroke="#000" stroke-width="0.72">vs</text>
<text x="1591.4" y="1490.4" font-size="36.20" fill="#e9000f" textLength="116.6" lengthAdjust="spacingAndGlyphs" stroke="#e9000f" stroke-width="0.72">Defense</text>
<text x="1735.5" y="1490.4" font-size="36.20" textLength="32.0" lengthAdjust="spacingAndGlyphs" stroke="#000" stroke-width="0.72">vs</text>
<text x="1789.0" y="1490.4" font-size="36.20" fill="#7ec0e6" textLength="129.3" lengthAdjust="spacingAndGlyphs" stroke="#7ec0e6" stroke-width="0.72">Finishing</text>
<text x="2567.6" y="296.9" font-size="36.20" text-anchor="middle" textLength="158.1" lengthAdjust="spacingAndGlyphs" stroke="#000" stroke-width="0.72">Style Trend</text>
<line x1="2152.0" y1="1111.9" x2="2984.0" y2="1111.9" stroke="#c2c2c2" stroke-width="1.35"/>
<line x1="2152.0" y1="861.5" x2="2984.0" y2="861.5" stroke="#c2c2c2" stroke-width="1.35"/>
<line x1="2152.0" y1="611.2" x2="2984.0" y2="611.2" stroke="#c2c2c2" stroke-width="1.35"/>
<line x1="2152.0" y1="360.8" x2="2984.0" y2="360.8" stroke="#c2c2c2" stroke-width="1.35"/>
<text x="2137.0" y="1371.7" font-size="24.15" text-anchor="end" fill="#4d4d4d">0</text>
<text x="2137.0" y="1121.3" font-size="24.15" text-anchor="end" fill="#4d4d4d">25</text>
<text x="2137.0" y="870.9" font-size="24.15" text-anchor="end" fill="#4d4d4d">50</text>
<text x="2137.0" y="620.6" font-size="24.15" text-anchor="end" fill="#4d4d4d">75</text>
<text x="2137.0" y="370.2" font-size="24.15" text-anchor="end" fill="#4d4d4d">100</text>
<line x1="2152.0" y1="1362.3" x2="2984.0" y2="1362.3" stroke="#000" stroke-width="3.2"/>
<text x="2175.7" y="1398.6" font-size="24.15" text-anchor="middle" fill="#4d4d4d">21-22</text>
<text x="2420.6" y="1398.6" font-size="24.15" text-anchor="middle" fill="#4d4d4d">22-23</text>
<text x="2666.0" y="1398.6" font-size="24.15" text-anchor="middle" fill="#4d4d4d">23-24</text>
<polyline points="2175.7,501.0 2420.6,471.0 2666.0,450.9" fill="none" stroke="#d95f02" stroke-width="6.3" stroke-linejoin="round" stroke-linecap="round" stroke-opacity="0.13"/>
<circle cx="2175.7" cy="501.0" r="6.9" fill="#d95f02" fill-opacity="0.13"/>
<circle cx="2420.6" cy="471.0" r="6.9" fill="#d95f02" fill-opacity="0.13"/>
<circle cx="2666.0" cy="450.9" r="6.9" fill="#d95f02" fill-opacity="0.13"/>
<polyline points="2175.7,561.1 2420.6,521.0 2666.0,611.2" fill="none" stroke="#666666" stroke-width="6.3" stroke-linejoin="round" stroke-linecap="round" stroke-opacity="0.13"/>
<circle cx="2175.7" cy="561.1" r="6.9" fill="#666666" fill-opacity="0.13"/>
<circle cx="2420.6" cy="521.0" r="6.9" fill="#666666" fill-opacity="0.13"/>
<circle cx="2666.0" cy="611.2" r="6.9" fill="#666666" fill-opacity="0.13"/>
<polyline points="2175.7,1091.9 2420.6,1091.9 2666.0,1011.8" fill="none" stroke="#66a61e" stroke-width="6.3" stroke-linejoin="round" stroke-linecap="round" stroke-opacity="0.13"/>
<circle cx="2175.7" cy="1091.9" r="6.9" fill="#66a61e" fill-opacity="0.13"/>
<circle cx="2420.6" cy="1091.9" r="6.9" fill="#66a61e" fill-opacity="0.13"/>
<circle cx="2666.0" cy="1011.8" r="6.9" fill="#66a61e" fill-opacity="0.13"/>
<polyline points="2175.7,1222.1 2420.6,1242.1 2666.0,1162.0" fill="none" stroke="#a6761d" stroke-width="6.3" stroke-linejoin="round" stroke-linecap="round" stroke-opacity="0.13"/>
<circle cx="2175.7" cy="1222.1" r="6.9" fill="#a6761d" fill-opacity="0.13"/>
<circle cx="2420.6" cy="1242.1" r="6.9" fill="#a6761d" fill-opacity="0.13"/>
<circle cx="2666.0" cy="1162.0" r="6.9" fill="#a6761d" fill-opacity="0.13"/>
<polyline points="2175.7,1212.1 2420.6,1222.1 2666.0,1162.0" fill="none" stroke="#7570b3" stroke-width="6.3" stroke-linejoin="round" stroke-linecap="round" stroke-opacity="0.13"/>
<circle cx="2175.7" cy="1212.1" r="6.9" fill="#7570b3" fill-opacity="0.13"/>
<circle cx="2420.6" cy="1222.1" r="6.9" fill="#7570b3" fill-opacity="0.13"/>
<circle cx="2666.0" cy="1162.0" r="6.9" fill="#7570b3" fill-opacity="0.13"/>
<polyline points="2175.7,721.3 2420.6,661.2 2666.0,541.1" fill="none" stroke="#1b8a66" stroke-width="6.3" stroke-linejoin="round" stroke-linecap="round"/>
<circle cx="2175.7" cy="721.3" r="6.9" fill="#1b8a66"/>
<circle cx="2420.6" cy="661.2" r="6.9" fill="#1b8a66"/>
<circle cx="2666.0" cy="541.1" r="6.9" fill="#1b8a66"/>
<polyline points="2175.7,851.5 2420.6,911.6 2666.0,741.4" fill="none" stroke="#6b6b6b" stroke-width="6.3" stroke-linejoin="round" stroke-linecap="round"/>
<circle cx="2175.7" cy="851.5" r="6.9" fill="#6b6b6b"/>
<circle cx="2420.6" cy="911.6" r="6.9" fill="#6b6b6b"/>
<circle cx="2666.0" cy="741.4" r="6.9" fill="#6b6b6b"/>
<polyline points="2175.7,1322.2 2420.6,1312.2 2666.0,1212.1" fill="none" stroke="#da9b14" stroke-width="6.3" stroke-linejoin="round" stroke-linecap="round"/>
<circle cx="2175.7" cy="1322.2" r="6.9" fill="#da9b14"/>
<circle cx="2420.6" cy="1312.2" r="6.9" fill="#da9b14"/>
<circle cx="2666.0" cy="1212.1" r="6.9" fill="#da9b14"/>
<line x1="2666.0" y1="450.9" x2="2854.5" y2="450.9" stroke="#c4571b" stroke-width="2.3"/>
<line x1="2666.0" y1="611.2" x2="2870.5" y2="611.2" stroke="#5c5c5c" stroke-width="2.3"/>
<line x1="2666.0" y1="1011.8" x2="2776.5" y2="1011.8" stroke="#5a9e2e" stroke-width="2.3"/>
<line x1="2666.0" y1="1162.0" x2="2699.5" y2="1111.5" stroke="#8d6224" stroke-width="2.3"/>
<line x1="2666.0" y1="1162.0" x2="2776.5" y2="1163.4" stroke="#615e9f" stroke-width="2.3"/>
<line x1="2666.0" y1="541.1" x2="2856.2" y2="541.1" stroke="#1f8e6b" stroke-width="2.3"/>
<line x1="2666.0" y1="741.4" x2="2856.2" y2="741.4" stroke="#6b6b6b" stroke-width="2.3"/>
<line x1="2666.0" y1="1212.1" x2="2766.0" y2="1220.7" stroke="#dba520" stroke-width="2.3"/>
<rect x="2854.5" y="432.6" width="113.5" height="36.8" fill="#fff" stroke="#c4571b" stroke-width="1.4" rx="5.5"/>
<text x="2911.2" y="459.4" font-size="23.60" text-anchor="middle" fill="#c4571b">Crossing</text>
<rect x="2870.5" y="592.7" width="81.0" height="36.8" fill="#fff" stroke="#5c5c5c" stroke-width="1.4" rx="5.5"/>
<text x="2911.0" y="619.5" font-size="23.60" text-anchor="middle" fill="#5c5c5c">Shots</text>
<rect x="2776.5" y="993.2" width="198.2" height="36.8" fill="#fff" stroke="#5a9e2e" stroke-width="1.4" rx="5.5"/>
<text x="2875.6" y="1020.0" font-size="23.60" text-anchor="middle" fill="#5a9e2e">Long Distribution</text>
<rect x="2698.9" y="1088.1" width="275.8" height="36.8" fill="#fff" stroke="#8d6224" stroke-width="1.4" rx="5.5"/>
<text x="2836.8" y="1114.9" font-size="23.60" text-anchor="middle" fill="#8d6224">Possession Involvement</text>
<rect x="2776.5" y="1145.0" width="198.2" height="36.8" fill="#fff" stroke="#615e9f" stroke-width="1.4" rx="5.5"/>
<text x="2875.6" y="1171.8" font-size="23.60" text-anchor="middle" fill="#615e9f">Defensive Action</text>
<rect x="2856.2" y="522.5" width="109.7" height="36.8" fill="#fff" stroke="#1f8e6b" stroke-width="1.4" rx="5.5"/>
<text x="2911.1" y="549.3" font-size="23.60" text-anchor="middle" fill="#1f8e6b">Creation</text>
<rect x="2856.2" y="722.8" width="109.7" height="36.8" fill="#fff" stroke="#6b6b6b" stroke-width="1.4" rx="5.5"/>
<text x="2911.1" y="749.6" font-size="23.60" text-anchor="middle" fill="#6b6b6b">Carrying</text>
<rect x="2766.0" y="1201.9" width="208.7" height="36.8" fill="#fff" stroke="#dba520" stroke-width="1.4" rx="5.5"/>
<text x="2870.3" y="1228.7" font-size="23.60" text-anchor="middle" fill="#dba520">Passing Accuracy</text>
<text x="2714.7" y="1484.8" font-size="36.20" text-anchor="middle" textLength="212.4" lengthAdjust="spacingAndGlyphs" stroke="#000" stroke-width="0.72">Similar Players</text>
<rect x="2470.0" y="1529.6" width="430.3" height="41.7" fill="#fd8683" stroke="#000" stroke-width="3.3"/>
<text x="2430.7" y="1546.0" font-size="27.70" text-anchor="end" textLength="125.5" lengthAdjust="spacingAndGlyphs" stroke="#000" stroke-width="0.55">Nabil Alioui</text>
<text x="2430.7" y="1575.9" font-size="27.70" text-anchor="end" textLength="113.3" lengthAdjust="spacingAndGlyphs" stroke="#000" stroke-width="0.55">(Le Havre)</text>
<rect x="2863.5" y="1533.4" width="76.4" height="34.4" fill="#fff" stroke="#000" stroke-width="1.3" rx="5.5"/>
<text x="2900.5" y="1557.6" font-size="19.50" text-anchor="middle">96.7%</text>
<rect x="2470.0" y="1613.6" width="429.0" height="41.7" fill="#fd8683" stroke="#000" stroke-width="3.3"/>
<text x="2430.7" y="1630.0" font-size="27.70" text-anchor="end" textLength="135.0" lengthAdjust="spacingAndGlyphs" stroke="#000" stroke-width="0.55">Fares Chaibi</text>
<text x="2430.7" y="1659.9" font-size="27.70" text-anchor="end" textLength="331.6" lengthAdjust="spacingAndGlyphs" stroke="#000" stroke-width="0.55">(Eintracht Frankfurt, Toulouse)</text>
<rect x="2862.2" y="1617.4" width="76.4" height="34.4" fill="#fff" stroke="#000" stroke-width="1.3" rx="5.5"/>
<text x="2899.2" y="1641.6" font-size="19.50" text-anchor="middle">96.4%</text>
<rect x="2470.0" y="1697.6" width="428.6" height="41.7" fill="#fd8683" stroke="#000" stroke-width="3.3"/>
<text x="2430.7" y="1714.0" font-size="27.70" text-anchor="end" textLength="300.9" lengthAdjust="spacingAndGlyphs" stroke="#000" stroke-width="0.55">Johann Berg Gudmundsson</text>
<text x="2430.7" y="1743.9" font-size="27.70" text-anchor="end" textLength="98.6" lengthAdjust="spacingAndGlyphs" stroke="#000" stroke-width="0.55">(Burnley)</text>
<rect x="2861.8" y="1701.4" width="76.4" height="34.4" fill="#fff" stroke="#000" stroke-width="1.3" rx="5.5"/>
<text x="2898.8" y="1725.6" font-size="19.50" text-anchor="middle">96.3%</text>
<rect x="2470.0" y="1781.6" width="428.1" height="41.7" fill="#fd8683" stroke="#000" stroke-width="3.3"/>
<text x="2430.7" y="1798.0" font-size="27.70" text-anchor="end" textLength="230.1" lengthAdjust="spacingAndGlyphs" stroke="#000" stroke-width="0.55">Albert Gudmundsson</text>
<text x="2430.7" y="1827.9" font-size="27.70" text-anchor="end" textLength="87.5" lengthAdjust="spacingAndGlyphs" stroke="#000" stroke-width="0.55">(Genoa)</text>
<rect x="2861.3" y="1785.4" width="76.4" height="34.4" fill="#fff" stroke="#000" stroke-width="1.3" rx="5.5"/>
<text x="2898.3" y="1809.6" font-size="19.50" text-anchor="middle">96.2%</text>
<rect x="2470.0" y="1865.6" width="426.3" height="41.7" fill="#fd8683" stroke="#000" stroke-width="3.3"/>
<text x="2430.7" y="1882.0" font-size="27.70" text-anchor="end" textLength="144.3" lengthAdjust="spacingAndGlyphs" stroke="#000" stroke-width="0.55">Nicolas Viola</text>
<text x="2430.7" y="1911.9" font-size="27.70" text-anchor="end" textLength="100.9" lengthAdjust="spacingAndGlyphs" stroke="#000" stroke-width="0.55">(Cagliari)</text>
<rect x="2859.5" y="1869.4" width="76.4" height="34.4" fill="#fff" stroke="#000" stroke-width="1.3" rx="5.5"/>
<text x="2896.5" y="1893.6" font-size="19.50" text-anchor="middle">95.8%</text>
<text x="60.0" y="1990.0" font-size="28.15" textLength="356.6" lengthAdjust="spacingAndGlyphs" stroke="#000" stroke-width="0.45" font-style="italic">Source: Understat, Opta via FBref</text>
<text x="60.0" y="2029.9" font-size="28.15" textLength="2893.3" lengthAdjust="spacingAndGlyphs" stroke="#000" stroke-width="0.45" font-style="italic">Notes: Created by @macro_football on 2024-06-01. All percentiles and metrics are relative to all players in the top 5 European leagues. Overall is the player's expected points above replacement (xPAR) percentile. Offense and Defense Impact percentiles and Z-Scores are</text>
<text x="60.0" y="2069.9" font-size="28.15" textLength="2878.8" lengthAdjust="spacingAndGlyphs" stroke="#000" stroke-width="0.45" font-style="italic">the player's isolated impact on xGF and xGA (or GF and GA) per 90, controlling for teammates, opposition players, managers, score, situation, etc..., scaled relative to European Top 5 League average. Finishing (or Saving) Impact percentiles and Z-Scores are the player's</text>
<text x="60.0" y="2109.8" font-size="28.15" textLength="2900.8" lengthAdjust="spacingAndGlyphs" stroke="#000" stroke-width="0.45" font-style="italic">impact on shot xG, relative to European Top 5 League average. Shot (or xG) Share is the share of the team's shots (or xG) that the player takes when on the field. Usage is the share of the team's xG that the player is responsible for when on the field via either shots or shot</text>
<text x="60.0" y="2149.8" font-size="28.15" textLength="2904.0" lengthAdjust="spacingAndGlyphs" stroke="#000" stroke-width="0.45" font-style="italic">assists. Individual characteristics (i.e. dribbling and creating) are based on a dimensionality reduction of each player's micro-statistics (i.e. short pass attempts and interceptions). Player types (i.e. ball-playing defender) are based on a clustering analysis of every player's</text>
<text x="60.0" y="2189.7" font-size="28.15" textLength="999.6" lengthAdjust="spacingAndGlyphs" stroke="#000" stroke-width="0.45" font-style="italic">individual characteristics. Player similarity scores are based on the same clustering analysis.</text>
</svg>
</body></html>
